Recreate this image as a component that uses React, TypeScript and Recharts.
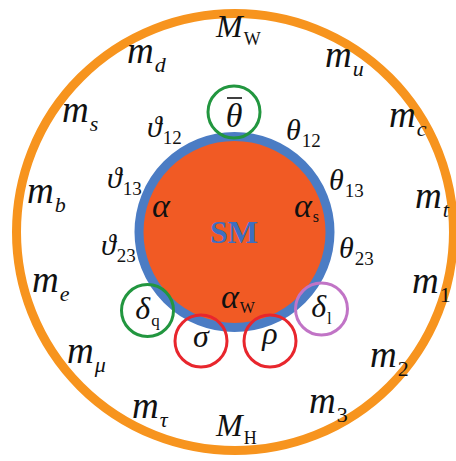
import { ScatterChart, Scatter, XAxis, YAxis } from 'recharts'

const W = 456
const H = 461

// diagram plane in pixel-like units, y grows downward
const boundaryCentre = [{ x: 235, y: 232 }]
const coreCentre = [{ x: 234.5, y: 232 }]
const coreTitle = [{ x: 234, y: 243, text: 'SM' }]

// fermion masses round the outer ring
const massLabels = [
  { x: 127, y: 63, base: 'm', sub: 'd' },
  { x: 325, y: 67, base: 'm', sub: 'u' },
  { x: 62, y: 122, base: 'm', sub: 's' },
  { x: 389, y: 127, base: 'm', sub: 'c' },
  { x: 27, y: 203, base: 'm', sub: 'b' },
  { x: 415, y: 208, base: 'm', sub: 't' },
  { x: 32, y: 292, base: 'm', sub: 'e' },
  { x: 412, y: 293, base: 'm', sub: '1' },
  { x: 67, y: 363, base: 'm', sub: 'μ' },
  { x: 370, y: 367, base: 'm', sub: '2' },
  { x: 132, y: 418, base: 'm', sub: 'τ' },
  { x: 309, y: 413, base: 'm', sub: '3' },
]

const bosonLabels = [
  { x: 216, y: 37, base: 'M', sub: 'W' },
  { x: 216, y: 436, base: 'M', sub: 'H' },
]

// CKM (left) and PMNS (right) mixing angles
const angleLabels = [
  { x: 147, y: 137, base: 'ϑ', sub: '12' },
  { x: 286, y: 140, base: 'θ', sub: '12' },
  { x: 107, y: 188, base: 'ϑ', sub: '13' },
  { x: 329, y: 190, base: 'θ', sub: '13' },
  { x: 101, y: 255, base: 'ϑ', sub: '23' },
  { x: 339, y: 258, base: 'θ', sub: '23' },
]

const couplingLabels = [
  { x: 152, y: 217, base: 'α', sub: '' },
  { x: 294, y: 217, base: 'α', sub: 's' },
  { x: 221, y: 308, base: 'α', sub: 'W' },
]

// circled phases
const phaseLabels = [
  { x: 234, y: 112, base: 'θ', sub: '', bar: true, group: 'quark' },
  { x: 147.5, y: 310.5, base: 'δ', sub: 'q', bar: false, group: 'quark' },
  { x: 201, y: 341, base: 'σ', sub: '', bar: false, group: 'majorana' },
  { x: 270, y: 341, base: 'ρ', sub: '', bar: false, group: 'majorana' },
  { x: 321.5, y: 309, base: 'δ', sub: 'l', bar: false, group: 'lepton' },
]

const SERIF = '"Liberation Serif", "Times New Roman", serif'
const GROUP_COLOR: Record<string, string> = {
  quark: '#22963f',
  majorana: '#e8262d',
  lepton: '#c174c6',
}
const BASE_SHIFT: Record<string, number> = { θ: 12, δ: 8, σ: 6, ρ: 3 }

const Boundary = ({ cx, cy }: any) => (
  <circle cx={cx} cy={cy} r={218.5} fill="none" stroke="#f7941e" strokeWidth={9} />
)

const Core = ({ cx, cy }: any) => (
  <circle cx={cx} cy={cy} r={95.5} fill="#f15a24" stroke="#4b7cc4" strokeWidth={9} />
)

const Title = ({ cx, cy, payload }: any) => (
  <text x={cx} y={cy} textAnchor="middle" fontFamily={SERIF} fontWeight="bold" fontSize={32} fill="#3e6fc1">
    {payload.text}
  </text>
)

const makeLabel = (size: number, subSize: number, subDy: number, subItalic: (s: string) => boolean) =>
  ({ cx, cy, payload }: any) => (
    <text x={cx} y={cy} fontFamily={SERIF} fill="#111">
      <tspan fontStyle="italic" fontSize={size}>{payload.base}</tspan>
      {payload.sub && (
        <tspan fontSize={subSize} dy={subDy} dx={1} fontStyle={subItalic(payload.sub) ? 'italic' : 'normal'}>
          {payload.sub}
        </tspan>
      )}
    </text>
  )

const isLetter = (s: string) => !/^[0-9]+$/.test(s)

const MassLabel = makeLabel(37, 22, 9, isLetter)
const BosonLabel = makeLabel(32, 18, 8, () => false)
const AngleLabel = makeLabel(30, 19, 7, () => false)
const CouplingLabel = makeLabel(34, 16, 5, () => false)

const PhaseLabel = ({ cx, cy, payload }: any) => {
  const color = GROUP_COLOR[payload.group]
  const size = payload.bar ? 34 : 32
  const shift = BASE_SHIFT[payload.base] ?? 6
  return (
    <g>
      <circle cx={cx} cy={cy} r={26} fill="none" stroke={color} strokeWidth={3} />
      <text x={cx} y={cy + shift + (payload.bar ? 3 : 0)} textAnchor="middle" fontFamily={SERIF} fill="#111">
        <tspan fontStyle="italic" fontSize={size}>{payload.base}</tspan>
        {payload.sub && (
          <tspan fontSize={17} dy={7} dx={1}>{payload.sub}</tspan>
        )}
      </text>
      {payload.bar && <line x1={cx - 7} x2={cx + 8} y1={cy - 14} y2={cy - 14} stroke="#111" strokeWidth={1.6} />}
    </g>
  )
}

export default function App() {
  return (
    <div style={{ position: 'absolute', left: 0, top: 0, width: W, height: H, background: '#fff' }}>
      <ScatterChart width={W} height={H} margin={{ top: 0, right: 0, bottom: 0, left: 0 }}>
        <XAxis type="number" dataKey="x" domain={[0, W]} hide />
        <YAxis type="number" dataKey="y" domain={[0, H]} reversed hide />
        <Scatter data={boundaryCentre} shape={(p: any) => <Boundary {...p} />} isAnimationActive={false} />
        <Scatter data={coreCentre} shape={(p: any) => <Core {...p} />} isAnimationActive={false} />
        <Scatter data={coreTitle} shape={(p: any) => <Title {...p} />} isAnimationActive={false} />
        <Scatter data={massLabels} shape={(p: any) => <MassLabel {...p} />} isAnimationActive={false} />
        <Scatter data={bosonLabels} shape={(p: any) => <BosonLabel {...p} />} isAnimationActive={false} />
        <Scatter data={angleLabels} shape={(p: any) => <AngleLabel {...p} />} isAnimationActive={false} />
        <Scatter data={couplingLabels} shape={(p: any) => <CouplingLabel {...p} />} isAnimationActive={false} />
        <Scatter data={phaseLabels} shape={(p: any) => <PhaseLabel {...p} />} isAnimationActive={false} />
      </ScatterChart>
    </div>
  )
}
